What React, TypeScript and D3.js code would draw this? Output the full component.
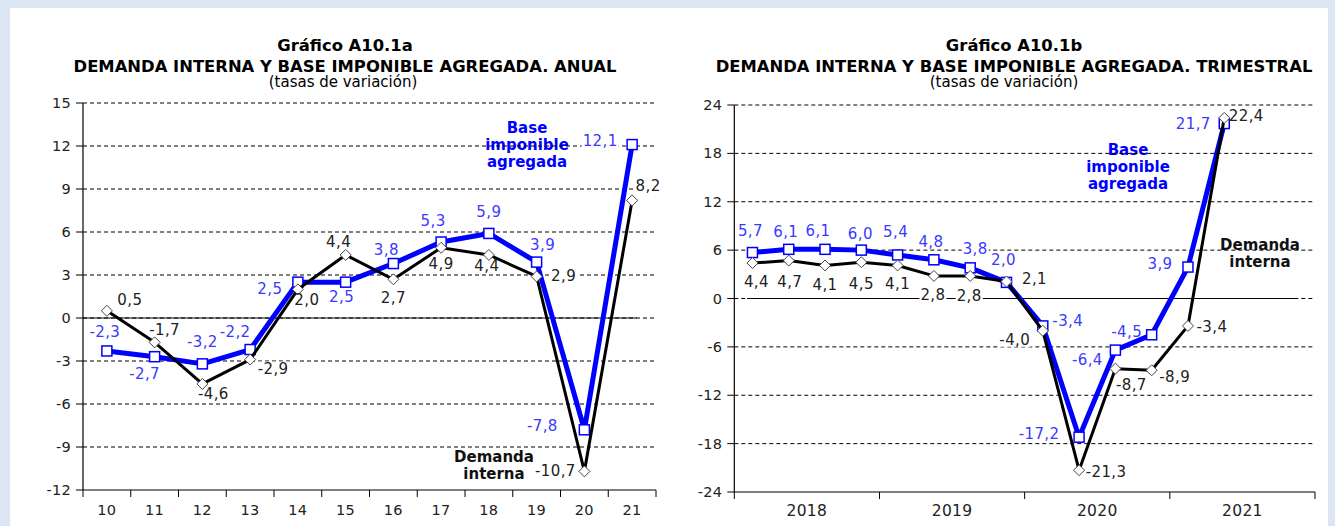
import React from "react";
import * as d3 from "d3";

// ---- data ----
const annualCats = ["10", "11", "12", "13", "14", "15", "16", "17", "18", "19", "20", "21"];
const annualDemanda = [0.5, -1.7, -4.6, -2.9, 2.0, 4.4, 2.7, 4.9, 4.4, 2.9, -10.7, 8.2];
const annualBase = [-2.3, -2.7, -3.2, -2.2, 2.5, 2.5, 3.8, 5.3, 5.9, 3.9, -7.8, 12.1];
const annualTicks = [-12, -9, -6, -3, 0, 3, 6, 9, 12, 15];

const quarterYears = ["2018", "2019", "2020", "2021"];
const quarterNames = ["T1", "T2", "T3", "T4"];
const quarterDemanda = [4.4, 4.7, 4.1, 4.5, 4.1, 2.8, 2.8, 2.1, -4.0, -21.3, -8.7, -8.9, -3.4, 22.4];
const quarterBase = [5.7, 6.1, 6.1, 6.0, 5.4, 4.8, 3.8, 2.0, -3.4, -17.2, -6.4, -4.5, 3.9, 21.7];
const quarterTicks = [-24, -18, -12, -6, 0, 6, 12, 18, 24];

// label offsets from each point (layout only)
const annualBaseOff = [[-2, -19], [-10, 17], [0, -22], [-15, -18], [-28, 7], [-4, 15], [-7, -14], [-8, -21], [0, -21], [6, -17], [-42, -4], [-32, -4]];
const annualDemOff = [[23, -11], [10, -12], [11, 10], [23, 9], [9, 11], [-7, -13], [0, 19], [0, 16], [-2, 11], [27, 0], [-29, 0], [16, -14]];
const quarterBaseOff = [[-2, -22], [-3, -17], [-7, -18], [-1, -16], [-2, -23], [-3, -18], [5, -19], [-3, -22], [25, -5], [-40, -3], [-28, 10], [-25, -3], [-28, -3], [-31, 0]];
const quarterDemOff = [[4, 19], [1, 21], [0, 20], [0, 22], [0, 19], [-1, 19], [-1, 20], [28, -3], [-28, 9], [27, 2], [16, 16], [23, 7], [24, 1], [22, -2]];

const FONT = "'DejaVu Sans', Verdana, sans-serif";
const BLUE = "#0000ff";
const BLUE_TXT = "#3a3aff";
const DARK = "#222";
const LS = 0.4;

const fmt = (v: number) => d3.format(".1f")(v).replace(".", ",").replace("−", "-");

const textWidth = (s: string, size: number) => {
  let w = 0;
  for (const ch of s) w += ch === "," ? 0.318 : ch === "-" ? 0.361 : 0.636;
  return w * size + LS * s.length;
};

type PanelProps = {
  cats: string[];
  demanda: number[];
  base: number[];
  ticks: number[];
  demOff: number[][];
  baseOff: number[][];
  x0: number;
  x1: number;
  yTop: number;
  yBot: number;
  tickEvery: number;
  zeroFrom: number;
  zeroTo: number;
};

function Panel(p: PanelProps) {
  const x = d3.scaleBand<string>().domain(p.cats).range([p.x0, p.x1]);
  const y = d3.scaleLinear().domain([p.ticks[0], p.ticks[p.ticks.length - 1]]).range([p.yBot, p.yTop]);
  const cx = (i: number) => (x(p.cats[i]) as number) + x.bandwidth() / 2;
  const line = d3.line<number>().x((_, i) => cx(i)).y((d) => y(d));
  const boundaries = d3.range(0, p.cats.length + 1, p.tickEvery).map((i) => p.x0 + i * x.bandwidth());
  const fs = 15;

  const labels = (vals: number[], off: number[][], color: string) =>
    vals.map((v, i) => {
      const t = fmt(v);
      const w = textWidth(t, fs);
      const lx = cx(i) + off[i][0];
      const ly = y(v) + off[i][1];
      return { t, w, lx, ly, color };
    });
  const all = [...labels(p.base, p.baseOff, BLUE_TXT), ...labels(p.demanda, p.demOff, DARK)];

  return (
    <g>
      {p.ticks.slice(1).map((t) => (
        <line key={t} x1={p.x0} x2={p.x1} y1={y(t)} y2={y(t)} stroke="#000" strokeDasharray="4,3" strokeWidth={1} />
      ))}
      <line x1={p.zeroFrom} x2={p.zeroTo} y1={y(0)} y2={y(0)} stroke="#000" strokeWidth={1} />
      {all.map((l, i) => (
        <rect key={i} x={l.lx - l.w / 2 - 1} y={l.ly - 7} width={l.w + 2} height={14} fill="#fff" />
      ))}
      {/* axes */}
      <line x1={p.x0} x2={p.x0} y1={p.yTop} y2={p.yBot} stroke="#000" strokeWidth={1.2} />
      <line x1={p.x0} x2={p.x1} y1={p.yBot} y2={p.yBot} stroke="#000" strokeWidth={1.2} />
      {p.ticks.map((t) => (
        <g key={t}>
          <line x1={p.x0 - 7} x2={p.x0} y1={y(t)} y2={y(t)} stroke="#000" />
          <text x={p.x0 - 12} y={y(t)} textAnchor="end" dominantBaseline="central" fontSize={14.5} letterSpacing={0.3} fill={DARK} fontFamily={FONT}>
            {t}
          </text>
        </g>
      ))}
      {boundaries.map((bx, i) => (
        <line key={i} x1={bx} x2={bx} y1={p.yBot} y2={p.yBot + 7} stroke="#000" />
      ))}
      {/* series */}
      <path d={line(p.base) as string} fill="none" stroke={BLUE} strokeWidth={5} strokeLinejoin="round" />
      {p.base.map((v, i) => (
        <rect key={i} x={cx(i) - 5} y={y(v) - 5} width={10} height={10} fill="#fff" stroke={BLUE} strokeWidth={1.5} />
      ))}
      <path d={line(p.demanda) as string} fill="none" stroke="#000" strokeWidth={3} strokeLinejoin="round" />
      {p.demanda.map((v, i) => (
        <path key={i} d={`M${cx(i)},${y(v) - 5.5}L${cx(i) + 5.5},${y(v)}L${cx(i)},${y(v) + 5.5}L${cx(i) - 5.5},${y(v)}Z`} fill="#fff" stroke="#444" strokeWidth={1} />
      ))}
      {all.map((l, i) => (
        <text key={i} x={l.lx} y={l.ly} textAnchor="middle" dominantBaseline="central" fontSize={fs} letterSpacing={LS} fill={l.color} fontFamily={FONT}>
          {l.t}
        </text>
      ))}
    </g>
  );
}

function Titles({ cx, sub, line2, subX }: { cx: number; sub: string; line2: string; subX: number }) {
  return (
    <g fontFamily={FONT} textAnchor="middle" dominantBaseline="central" fill="#000">
      <text x={cx} y={45} fontSize={16.4} fontWeight="bold">{sub}</text>
      <text x={cx} y={66} fontSize={16.4} fontWeight="bold">{line2}</text>
      <text x={subX} y={82} fontSize={15}>(tasas de variación)</text>
    </g>
  );
}

function Note({ x, y, lines, color, bg }: { x: number; y: number; lines: string[]; color: string; bg: number }) {
  return (
    <g>
      <rect x={x - bg / 2} y={y - 9} width={bg} height={lines.length * 17 + 2} fill="#fff" />
      {lines.map((t, i) => (
        <text key={i} x={x} y={y + i * 17} textAnchor="middle" dominantBaseline="central" fontSize={15} fontWeight="bold" fill={color} fontFamily={FONT}>
          {t}
        </text>
      ))}
    </g>
  );
}

export default function App() {
  const quarterCats = quarterYears.flatMap((yr) => quarterNames.map((q) => yr + q));
  const qx = d3.scaleBand<string>().domain(quarterYears).range([734.3, 1315]);
  const ax = d3.scaleBand<string>().domain(annualCats).range([83, 656]);
  return (
    <div style={{ position: "absolute", left: 0, top: 0 }}>
      <svg width={1335} height={526} style={{ display: "block" }}>
        <rect width={1335} height={526} fill="#dce6f2" />
        <rect x={10} y={8} width={1318} height={518} fill="#fff" />

        <Titles cx={345} subX={343} sub="Gráfico A10.1a" line2="DEMANDA INTERNA  Y BASE IMPONIBLE AGREGADA. ANUAL" />
        <Titles cx={1014} subX={1004} sub="Gráfico A10.1b" line2="DEMANDA INTERNA  Y BASE IMPONIBLE AGREGADA. TRIMESTRAL" />

        <Note x={527} y={128} lines={["Base", "imponible", "agregada"]} color={BLUE} bg={92} />
        <Note x={1128} y={150} lines={["Base", "imponible", "agregada"]} color={BLUE} bg={100} />
        <Note x={494} y={457} lines={["Demanda", "interna"]} color="#111" bg={86} />
        <Note x={1260} y={245} lines={["Demanda", "interna"]} color="#111" bg={90} />

        <Panel cats={annualCats} demanda={annualDemanda} base={annualBase} ticks={annualTicks}
          demOff={annualDemOff} baseOff={annualBaseOff} x0={83} x1={656} yTop={103} yBot={490}
          tickEvery={1} zeroFrom={83} zeroTo={637} />
        <Panel cats={quarterCats} demanda={quarterDemanda} base={quarterBase} ticks={quarterTicks}
          demOff={quarterDemOff} baseOff={quarterBaseOff} x0={734.3} x1={1315} yTop={105} yBot={492}
          tickEvery={4} zeroFrom={747} zeroTo={1298} />

        <g fontFamily={FONT} fontSize={14.5} letterSpacing={0.3} fill={DARK} textAnchor="middle" dominantBaseline="central">
          {annualCats.map((c) => (
            <text key={c} x={(ax(c) as number) + ax.bandwidth() / 2} y={510}>{c}</text>
          ))}
          {quarterYears.map((yr) => (
            <text key={yr} x={(qx(yr) as number) + qx.bandwidth() / 2} y={511} fontSize={15.5}>{yr}</text>
          ))}
        </g>
      </svg>
    </div>
  );
}
